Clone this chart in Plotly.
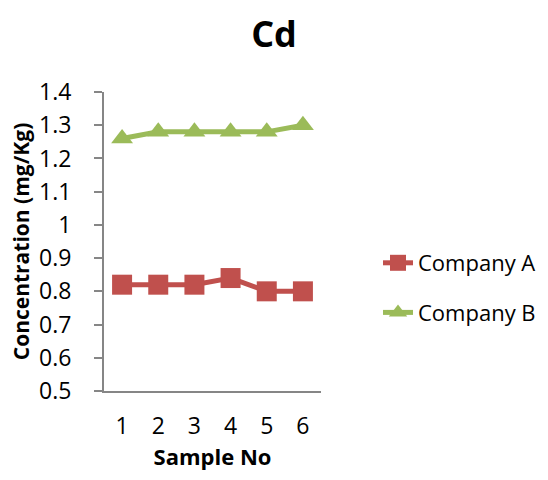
import plotly.graph_objects as go

samples = [1, 2, 3, 4, 5, 6]
company_a = [0.82, 0.82, 0.82, 0.84, 0.80, 0.80]
company_b = [1.26, 1.28, 1.28, 1.28, 1.28, 1.30]
y_ticks = [0.5, 0.6, 0.7, 0.8, 0.9, 1.0, 1.1, 1.2, 1.3, 1.4]
y_tick_text = ["0.5", "0.6", "0.7", "0.8", "0.9", "1", "1.1", "1.2", "1.3", "1.4"]

FONT = "Open Sans"

fig = go.Figure()
fig.add_trace(go.Scatter(
    x=samples, y=company_a, name="Company A", mode="lines+markers",
    line=dict(color="#C0504D", width=5),
    marker=dict(symbol="square", size=20, color="#C0504D"),
    legendgroup="a",
))
fig.add_trace(go.Scatter(
    x=samples, y=company_b, name="Company B", mode="lines+markers",
    line=dict(color="#9BBB59", width=5),
    marker=dict(symbol="triangle-up", size=19, color="#9BBB59"),
    legendgroup="b",
))

fig.update_layout(
    width=548, height=480,
    margin=dict(l=104, r=227, t=92, b=89),
    paper_bgcolor="white", plot_bgcolor="white",
    font=dict(family=FONT, size=22, color="black"),
    title=dict(text="<b>Cd</b>", x=0.5, xref="container", xanchor="center",
               y=1 - 34 / 480, yref="container", yanchor="middle",
               font=dict(size=36, family=FONT, color="black")),
    legend=dict(x=378 / 548, xref="container", y=1 - 242 / 480, yref="container",
                xanchor="left", yanchor="top",
                font=dict(size=22, family=FONT), tracegroupgap=18,
                traceorder="grouped", itemwidth=30),
    showlegend=True,
)
fig.update_xaxes(
    range=[0.5, 6.5], tickvals=samples, ticks="", showgrid=False,
    showline=True, linecolor="#868686", linewidth=2, zeroline=False,
    title=dict(text="<b>Sample No</b>", font=dict(size=22, family=FONT), standoff=5),
    tickfont=dict(size=23), ticklabelstandoff=13,
)
fig.update_yaxes(
    range=[0.5, 1.4], tickvals=y_ticks, ticktext=y_tick_text,
    ticks="outside", ticklen=8, tickcolor="#868686", tickwidth=1.5,
    showgrid=False, showline=True, linecolor="#868686", linewidth=2, zeroline=False,
    title=dict(text="<b>Concentration (mg/Kg)</b>", font=dict(size=21, family=FONT), standoff=4),
    tickfont=dict(size=23), ticklabelstandoff=18,
)

fig.write_html("out.html")
